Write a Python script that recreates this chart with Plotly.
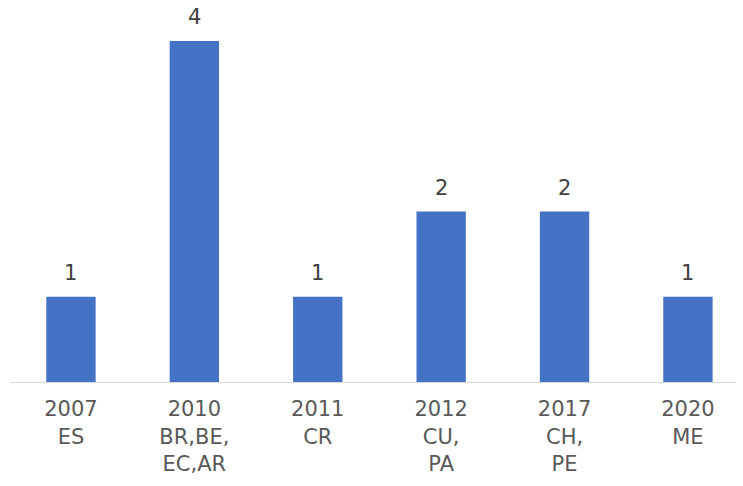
import plotly.graph_objects as go

years = ["2007", "2010", "2011", "2012", "2017", "2020"]
countries = ["ES", "BR,BE,<br>EC,AR", "CR", "CU,<br>PA", "CH,<br>PE", "ME"]
values = [1, 4, 1, 2, 2, 1]

labels = [f"{y}<br>{c}" for y, c in zip(years, countries)]
xpos = list(range(len(values)))

fig = go.Figure(go.Bar(
    x=xpos, y=values, width=0.4,
    marker=dict(color="#4472C4", line=dict(width=0)),
    cliponaxis=False,
))

for x, v in zip(xpos, values):
    fig.add_annotation(
        x=x, y=v, text=str(v), showarrow=False,
        yanchor="bottom", yshift=10,
        font=dict(size=21, color="#404040", family="DejaVu Sans"),
    )

fig.update_layout(
    width=743, height=486,
    margin=dict(l=2, r=0, t=0, b=112, autoexpand=False),
    plot_bgcolor="white", paper_bgcolor="white",
    showlegend=False,
    font=dict(family="DejaVu Sans", color="#595959", size=21),
)
fig.update_xaxes(
    tickmode="array", tickvals=xpos, ticktext=labels,
    range=[-0.494, 5.511],
    showline=True, linecolor="#D9D9D9", linewidth=1,
    showgrid=False, zeroline=False, ticks="",
    tickfont=dict(size=21, color="#595959"),
    ticklabelstandoff=8,
)
fig.update_yaxes(range=[0, 4.387], visible=False)

fig.write_html("out.html")
